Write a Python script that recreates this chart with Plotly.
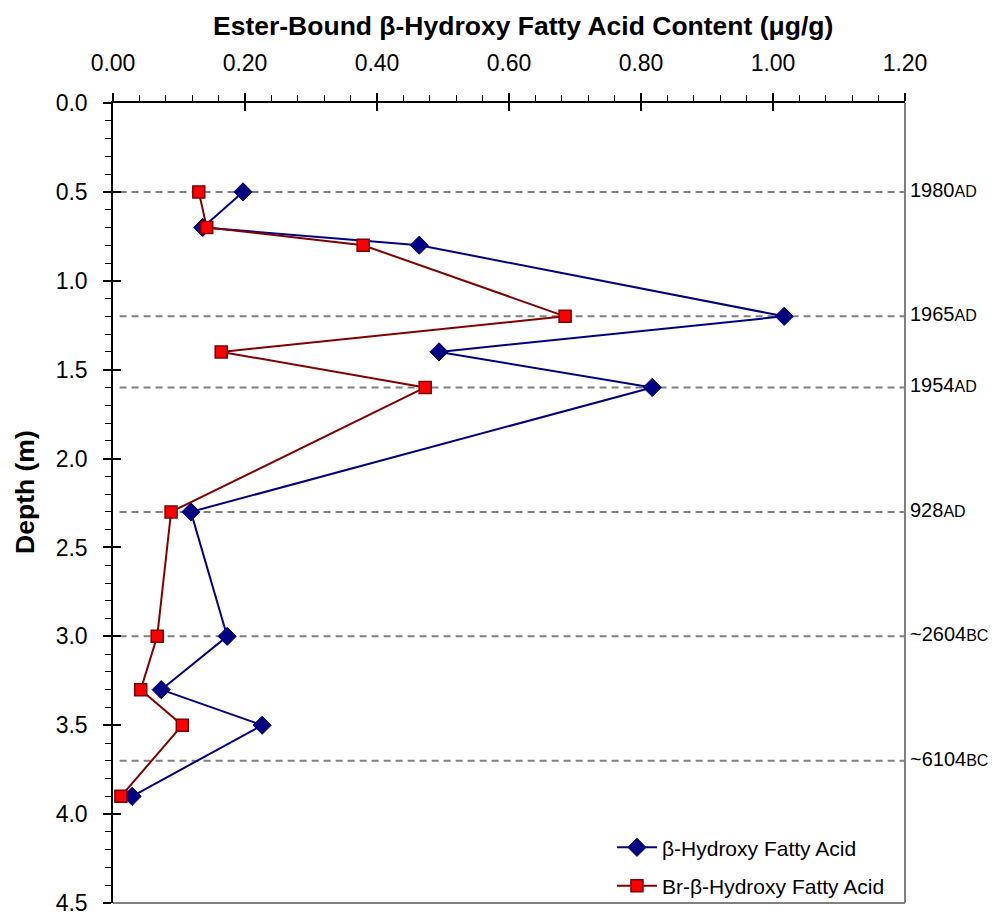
import plotly.graph_objects as go

# Sample depths (m) and ester-bound hydroxy fatty acid contents (ug/g)
depth = [0.5, 0.7, 0.8, 1.2, 1.4, 1.6, 2.3, 3.0, 3.3, 3.5, 3.9]
beta_oh = [0.197, 0.136, 0.464, 1.017, 0.494, 0.817, 0.118, 0.173, 0.073, 0.226, 0.029]
br_beta_oh = [0.130, 0.142, 0.379, 0.685, 0.164, 0.473, 0.088, 0.067, 0.042, 0.105, 0.012]

# Dated horizons
date_depth = [0.5, 1.2, 1.6, 2.3, 3.0, 3.7]
date_year = ["1980", "1965", "1954", "928", "~2604", "~6104"]
date_era = ["AD", "AD", "AD", "AD", "BC", "BC"]

x_ticks = [0.0, 0.2, 0.4, 0.6, 0.8, 1.0, 1.2]
y_ticks = [0.0, 0.5, 1.0, 1.5, 2.0, 2.5, 3.0, 3.5, 4.0, 4.5]

FONT = "Liberation Sans, Arial, sans-serif"
NAVY = "#000080"
MAROON = "#800000"

fig = go.Figure()

fig.add_trace(go.Scatter(
    x=beta_oh, y=depth, mode="lines+markers",
    name="β-Hydroxy Fatty Acid", legendgroup="a",
    line=dict(color=NAVY, width=2),
    marker=dict(symbol="diamond", size=14, color=NAVY, line=dict(color=NAVY, width=1)),
))
fig.add_trace(go.Scatter(
    x=br_beta_oh, y=depth, mode="lines+markers",
    name="Br-β-Hydroxy Fatty Acid", legendgroup="b",
    line=dict(color=MAROON, width=2),
    marker=dict(symbol="square", size=12, color="#FF0000", line=dict(color=MAROON, width=1.5)),
))
# empty trace that anchors the overlay axes carrying the inner half of the major ticks
fig.add_trace(go.Scatter(x=[], y=[], xaxis="x2", yaxis="y2", showlegend=False, hoverinfo="skip"))

shapes = []
annotations = []
for d, yr, era in zip(date_depth, date_year, date_era):
    shapes.append(dict(type="line", xref="x", yref="y", x0=0.01, x1=1.2, y0=d, y1=d,
                       line=dict(color="#808080", width=2, dash="7px,5px"), layer="below"))
    annotations.append(dict(xref="paper", yref="y", x=1.0, y=d, xanchor="left", yanchor="middle",
                            xshift=3, yshift=2, showarrow=False,
                            text=f"{yr}<span style='font-size:16px'>{era}</span>",
                            font=dict(family=FONT, size=20, color="black")))

# right and bottom frame of the plot area
shapes.append(dict(type="line", xref="paper", yref="paper", x0=1, x1=1, y0=0, y1=1,
                   line=dict(color="#808080", width=2)))
shapes.append(dict(type="line", xref="paper", yref="paper", x0=0, x1=1, y0=0, y1=0,
                   line=dict(color="#808080", width=2)))

annotations.append(dict(xref="paper", yref="paper", x=0.518, y=1.096, xanchor="center", yanchor="middle",
                        showarrow=False, text="<b>Ester-Bound β-Hydroxy Fatty Acid Content (μg/g)</b>",
                        font=dict(family=FONT, size=26.5, color="black")))
annotations.append(dict(xref="paper", yref="paper", x=-0.111, y=0.514, xanchor="center", yanchor="middle",
                        showarrow=False, textangle=-90, text="<b>Depth (m)</b>",
                        font=dict(family=FONT, size=26.5, color="black")))

fig.update_layout(
    width=997, height=913,
    margin=dict(l=113, r=92, t=103, b=10, autoexpand=False),
    paper_bgcolor="white", plot_bgcolor="white",
    font=dict(family=FONT, size=23, color="black"),
    showlegend=True,
    legend=dict(x=0.63, y=-0.004, xanchor="left", yanchor="bottom",
                bgcolor="rgba(0,0,0,0)", borderwidth=0,
                font=dict(family=FONT, size=21, color="black"),
                tracegroupgap=8, itemwidth=40),
    xaxis=dict(side="top", range=[0, 1.2], tickvals=x_ticks, tickformat=".2f",
               showgrid=False, zeroline=False, showline=True, linecolor="black", linewidth=1.5,
               ticks="outside", ticklen=8, tickwidth=1.5, tickcolor="black",
               ticklabelstandoff=13, ticklabeloverflow="allow",
               minor=dict(dtick=0.04, ticks="outside", ticklen=6, tickwidth=1, tickcolor="black")),
    yaxis=dict(range=[4.5, 0], tickvals=y_ticks, tickformat=".1f",
               showgrid=False, zeroline=False, showline=True, linecolor="black", linewidth=1.5,
               ticks="outside", ticklen=8, tickwidth=1.5, tickcolor="black",
               ticklabelstandoff=11, ticklabeloverflow="allow",
               minor=dict(dtick=0.1, ticks="outside", ticklen=6, tickwidth=1, tickcolor="black")),
    xaxis2=dict(overlaying="x", side="top", range=[0, 1.2], tickvals=x_ticks, showticklabels=False,
                showgrid=False, zeroline=False, showline=False,
                ticks="inside", ticklen=8, tickwidth=1.5, tickcolor="black"),
    yaxis2=dict(overlaying="y", side="left", range=[4.5, 0], tickvals=y_ticks, showticklabels=False,
                showgrid=False, zeroline=False, showline=False,
                ticks="inside", ticklen=8, tickwidth=1.5, tickcolor="black"),
    shapes=shapes,
    annotations=annotations,
)

fig.write_html("out.html")
